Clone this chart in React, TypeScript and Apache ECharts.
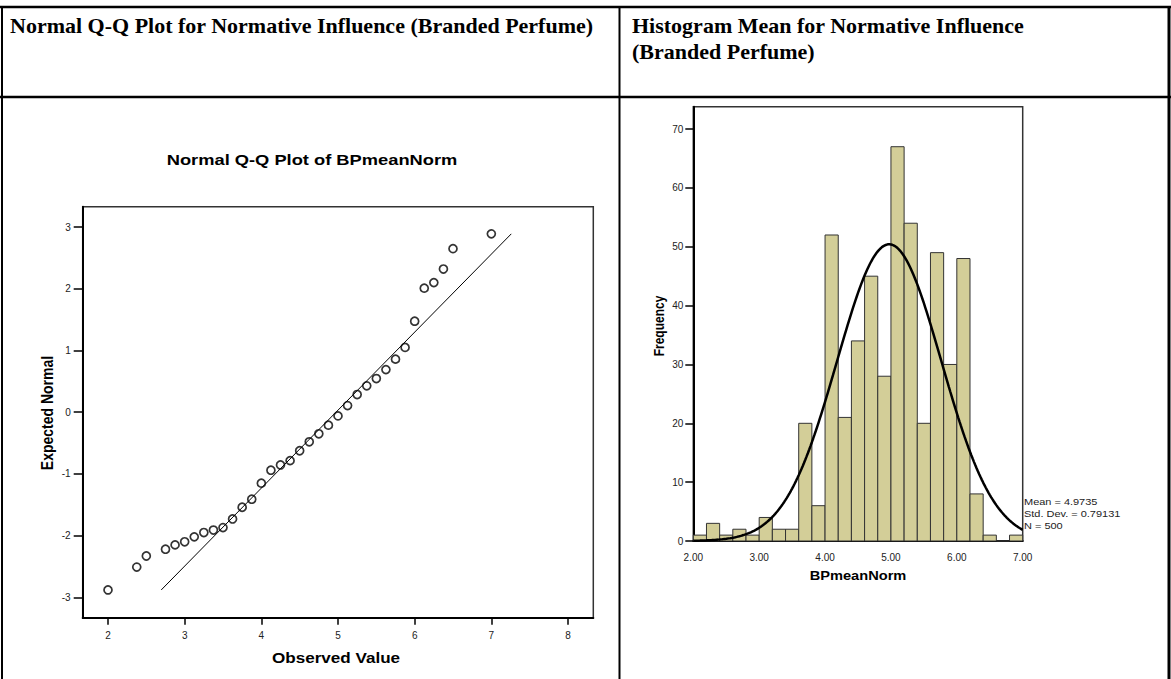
import React, { useEffect, useRef } from "react";
import * as echarts from "echarts";

// ---- Page headings -------------------------------------------------------
const leftHeading = "Normal Q-Q Plot for Normative Influence (Branded Perfume)";
const rightHeadingLines = ["Histogram Mean for Normative Influence", "(Branded Perfume)"];

// ---- Normal Q-Q plot of BPmeanNorm --------------------------------------
const qqTitle = "Normal Q-Q Plot of BPmeanNorm";
const qqXName = "Observed Value";
const qqYName = "Expected Normal";
const qqObserved = [
  2, 2.375, 2.5, 2.75, 2.875, 3, 3.125, 3.25, 3.375, 3.5, 3.625, 3.75, 3.875,
  4, 4.125, 4.25, 4.375, 4.5, 4.625, 4.75, 4.875, 5, 5.125, 5.25, 5.375, 5.5,
  5.625, 5.75, 5.875, 6, 6.125, 6.25, 6.375, 6.5, 7,
];
const qqExpected = [
  -2.88, -2.51, -2.33, -2.22, -2.15, -2.1, -2.02, -1.95, -1.91, -1.87, -1.73,
  -1.54, -1.41, -1.15, -0.94, -0.855, -0.785, -0.625, -0.48, -0.35, -0.21,
  -0.06, 0.107, 0.286, 0.427, 0.545, 0.69, 0.86, 1.05, 1.475, 2.01, 2.1, 2.32,
  2.65, 2.89,
];
const qqXTicks = [2, 3, 4, 5, 6, 7, 8];
const qqYTicks = [-3, -2, -1, 0, 1, 2, 3];

// ---- Histogram of BPmeanNorm --------------------------------------------
const histXName = "BPmeanNorm";
const histYName = "Frequency";
const binLower = [
  2.0, 2.2, 2.4, 2.6, 2.8, 3.0, 3.2, 3.4, 3.6, 3.8, 4.0, 4.2, 4.4, 4.6, 4.8,
  5.0, 5.2, 5.4, 5.6, 5.8, 6.0, 6.2, 6.4, 6.6, 6.8,
];
const binUpper = [
  2.2, 2.4, 2.6, 2.8, 3.0, 3.2, 3.4, 3.6, 3.8, 4.0, 4.2, 4.4, 4.6, 4.8, 5.0,
  5.2, 5.4, 5.6, 5.8, 6.0, 6.2, 6.4, 6.6, 6.8, 7.0,
];
const binCounts = [
  1, 3, 1, 2, 1, 4, 2, 2, 20, 6, 52, 21, 34, 45, 28, 67, 54, 20, 49, 30, 48, 8,
  1, 0, 1,
];
const histXTicks = [2, 3, 4, 5, 6, 7];
const histYTicks = [0, 10, 20, 30, 40, 50, 60, 70];

// Summary statistics printed beside the histogram
const sampleMean = 4.9735;
const sampleSd = 0.79131;
const sampleN = 500;
const binWidth = 0.2;
const statLines = [
  `Mean = ${sampleMean}`,
  `Std. Dev. = ${sampleSd}`,
  `N = ${sampleN}`,
];

const SANS = "'Liberation Sans', Arial, sans-serif";
const SERIF = "'Liberation Serif', 'Times New Roman', serif";
const STRETCH = 1.22; // horizontal stretch of the pasted chart text
const BAR_FILL = "#d3ce98";

function normalCurve(): number[][] {
  const pts: number[][] = [];
  for (let i = 0; i <= 250; i++) {
    const x = 2 + i * 0.02;
    const z = (x - sampleMean) / sampleSd;
    const y =
      (sampleN * binWidth * Math.exp(-0.5 * z * z)) /
      (sampleSd * Math.sqrt(2 * Math.PI));
    pts.push([x, y]);
  }
  return pts;
}

function label(
  text: string,
  x: number,
  y: number,
  size: number,
  opts: any = {}
) {
  return {
    type: "text",
    x,
    y,
    rotation: opts.rotation || 0,
    scaleX: opts.scaleX ?? 1,
    scaleY: opts.scaleY ?? 1,
    z: 10,
    style: {
      text,
      fontSize: size,
      fontWeight: opts.weight || "normal",
      fontFamily: opts.family || SANS,
      fill: opts.color || "#000",
      align: opts.align || "center",
      textAlign: opts.align || "center",
      verticalAlign: "middle",
      textVerticalAlign: "middle",
    },
  };
}

function rule(x1: number, y1: number, x2: number, y2: number, w: number) {
  return {
    type: "line",
    z: 10,
    shape: { x1, y1, x2, y2 },
    style: { stroke: "#000", lineWidth: w },
  };
}

export default function App() {
  const ref = useRef<HTMLDivElement>(null);

  useEffect(() => {
    if (!ref.current) return;
    const chart = echarts.init(ref.current, undefined, { renderer: "svg" });

    const qqPoints = qqObserved.map((v, i) => [v, qqExpected[i]]);
    const zLow = qqExpected[0];
    const zHigh = qqExpected[qqExpected.length - 1];
    const refLine = [
      [sampleMean + zLow * sampleSd, zLow],
      [sampleMean + zHigh * sampleSd, zHigh],
    ];
    const bins = binLower.map((lo, i) => [lo, binUpper[i], binCounts[i]]);

    const tickLabel = { fontFamily: SANS, fontSize: 10, color: "#222" };

    chart.setOption({
      animation: false,
      backgroundColor: "#fff",
      grid: [
        {
          left: 82.7,
          top: 206.7,
          width: 510.6,
          height: 411,
          show: true,
          borderColor: "#333",
          borderWidth: 1.5,
          backgroundColor: "transparent",
        },
        {
          left: 693.3,
          top: 106.7,
          width: 329.4,
          height: 434.3,
          show: true,
          borderColor: "#333",
          borderWidth: 1.5,
          backgroundColor: "transparent",
        },
      ],
      xAxis: [
        {
          type: "value",
          gridIndex: 0,
          min: 1.67,
          max: 8.33,
          splitLine: { show: false },
          axisLine: { show: true, onZero: false, lineStyle: { color: "#000", width: 2 } },
          axisTick: {
            show: true,
            length: 7,
            customValues: qqXTicks,
            lineStyle: { color: "#000", width: 1.5 },
          },
          axisLabel: { ...tickLabel, margin: 13, customValues: qqXTicks },
        },
        {
          type: "value",
          gridIndex: 1,
          min: 2,
          max: 7,
          splitLine: { show: false },
          axisLine: { show: true, onZero: false, lineStyle: { color: "#000", width: 2 } },
          axisTick: { show: false },
          axisLabel: {
            ...tickLabel,
            margin: 11,
            customValues: histXTicks,
            formatter: (v: number) => v.toFixed(2),
          },
        },
      ],
      yAxis: [
        {
          type: "value",
          gridIndex: 0,
          min: -3.33,
          max: 3.33,
          splitLine: { show: false },
          axisLine: { show: true, onZero: false, lineStyle: { color: "#000", width: 2 } },
          axisTick: {
            show: true,
            length: 9,
            customValues: qqYTicks,
            lineStyle: { color: "#000", width: 1.5 },
          },
          axisLabel: { ...tickLabel, margin: 12, customValues: qqYTicks },
        },
        {
          type: "value",
          gridIndex: 1,
          min: 0,
          max: 73.8,
          splitLine: { show: false },
          axisLine: { show: true, onZero: false, lineStyle: { color: "#000", width: 2 } },
          axisTick: {
            show: true,
            length: 8,
            customValues: histYTicks,
            lineStyle: { color: "#000", width: 1.5 },
          },
          axisLabel: { ...tickLabel, margin: 10, customValues: histYTicks },
        },
      ],
      series: [
        {
          name: "Reference line",
          type: "line",
          xAxisIndex: 0,
          yAxisIndex: 0,
          data: refLine,
          symbol: "none",
          lineStyle: { color: "#000", width: 1 },
          z: 2,
        },
        {
          name: "BPmeanNorm",
          type: "scatter",
          xAxisIndex: 0,
          yAxisIndex: 0,
          data: qqPoints,
          symbol: "circle",
          symbolSize: 8,
          itemStyle: {
            color: "rgba(255,255,255,0)",
            borderColor: "#000",
            borderWidth: 1.7,
          },
          z: 3,
        },
        {
          name: "Frequency",
          type: "custom",
          xAxisIndex: 1,
          yAxisIndex: 1,
          data: bins,
          encode: { x: [0, 1], y: 2 },
          renderItem: (_params: any, api: any) => {
            const lo = api.value(0);
            const hi = api.value(1);
            const c = api.value(2);
            const p0 = api.coord([lo, 0]);
            const p1 = api.coord([hi, c]);
            return {
              type: "rect",
              shape: {
                x: p0[0],
                y: p1[1],
                width: p1[0] - p0[0],
                height: p0[1] - p1[1],
              },
              style: { fill: BAR_FILL, stroke: "#333", lineWidth: 1 },
            };
          },
          z: 2,
        },
        {
          name: "Normal curve",
          type: "line",
          xAxisIndex: 1,
          yAxisIndex: 1,
          data: normalCurve(),
          symbol: "none",
          smooth: false,
          lineStyle: { color: "#000", width: 2.5 },
          z: 3,
        },
      ],
      graphic: [
        // table rules
        rule(0, 7, 1171, 7, 2.5),
        rule(0, 97, 1171, 97, 2.5),
        rule(2, 6, 2, 679, 2),
        rule(619.5, 6, 619.5, 679, 2),
        rule(1169, 6, 1169, 679, 3),
        // table headings
        label(leftHeading, 10, 25, 22, { weight: "bold", family: SERIF, align: "left" }),
        label(rightHeadingLines[0], 632, 25, 22, { weight: "bold", family: SERIF, align: "left" }),
        label(rightHeadingLines[1], 632, 51, 22, { weight: "bold", family: SERIF, align: "left" }),
        // Q-Q plot titles
        label(qqTitle, 312, 160, 15, { weight: "bold", scaleX: STRETCH }),
        label(qqXName, 336, 658, 14, { weight: "bold", scaleX: STRETCH }),
        label(qqYName, 46.6, 413, 14, { weight: "bold", rotation: Math.PI / 2, scaleY: STRETCH }),
        // histogram titles
        label(histXName, 858, 576, 12, { weight: "bold", scaleX: STRETCH }),
        label(histYName, 659, 326, 12, { weight: "bold", rotation: Math.PI / 2, scaleY: STRETCH }),
        ...statLines.map((t, i) =>
          label(t, 1024, 502 + i * 12, 9, { align: "left", scaleX: STRETCH, color: "#222" })
        ),
      ],
    });

    return () => chart.dispose();
  }, []);

  return (
    <div
      ref={ref}
      style={{ position: "absolute", left: 0, top: 0, width: 1171, height: 679 }}
    />
  );
}
